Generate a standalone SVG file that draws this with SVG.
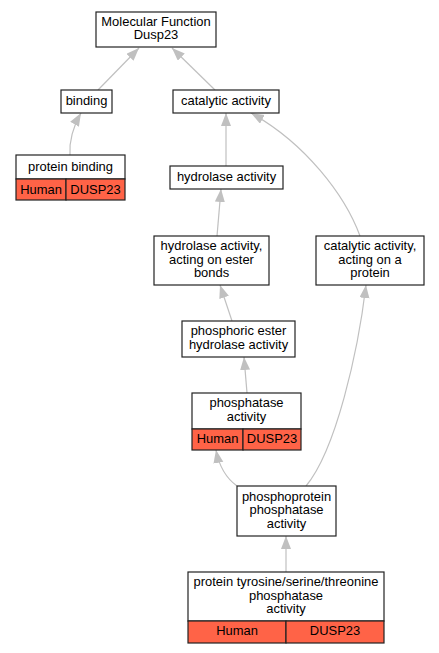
<svg xmlns="http://www.w3.org/2000/svg" width="439" height="653" viewBox="0 0 439 653">
<style>
text{font-family:"Liberation Sans",Arial,sans-serif;font-size:12.95px;fill:#000;text-anchor:middle}
.box{fill:#fff;stroke:#222;stroke-width:1.2}
.org{fill:#ff6347;stroke:#222;stroke-width:1.2}
.edge{fill:none;stroke:#c0c0c0;stroke-width:1.2}
</style>
<defs>
<marker id="ah" markerUnits="userSpaceOnUse" markerWidth="14" markerHeight="11" refX="13" refY="5" orient="auto" viewBox="0 0 14 11">
<path d="M0,0 L13,5 L0,10 z" fill="#c0c0c0"/>
</marker>
</defs>
<g id="connectors">
<path class="edge" d="M98,90 L139,48" marker-end="url(#ah)"/>
<path class="edge" d="M215,90 L172,48" marker-end="url(#ah)"/>
<path class="edge" d="M70,155 C69,141 73,127 81,113" marker-end="url(#ah)"/>
<path class="edge" d="M226,166 L226,113" marker-end="url(#ah)"/>
<path class="edge" d="M360,236 C345,195 305,143 251,113" marker-end="url(#ah)"/>
<path class="edge" d="M217,236 L221,189" marker-end="url(#ah)"/>
<path class="edge" d="M232,321 L220,285" marker-end="url(#ah)"/>
<path class="edge" d="M247,393 L244,357" marker-end="url(#ah)"/>
<path class="edge" d="M237,486 C226,478 219,466 216,450" marker-end="url(#ah)"/>
<path class="edge" d="M306,486 C336,450 358,352 366,285" marker-end="url(#ah)"/>
<path class="edge" d="M286,572 L286,536" marker-end="url(#ah)"/>
</g>
<g id="mf">
<rect class="box" x="96" y="12" width="120" height="35"/>
<text x="156" y="25.5">Molecular Function</text>
<text x="156" y="39">Dusp23</text>
</g>
<g id="binding">
<rect class="box" x="61" y="90" width="51" height="23"/>
<text x="86.5" y="105">binding</text>
</g>
<g id="catalytic">
<rect class="box" x="173" y="90" width="106" height="23"/>
<text x="226" y="105">catalytic activity</text>
</g>
<g id="proteinbinding">
<rect class="box" x="16" y="155" width="109" height="24"/>
<rect class="org" x="16" y="179" width="50" height="21"/>
<rect class="org" x="66" y="179" width="59" height="21"/>
<text x="70.5" y="171">protein binding</text>
<text x="41" y="194">Human</text>
<text x="95.5" y="194">DUSP23</text>
</g>
<g id="hydrolase">
<rect class="box" x="170" y="166" width="113" height="23"/>
<text x="226.5" y="181">hydrolase activity</text>
</g>
<g id="hydrolaseester">
<rect class="box" x="154" y="236" width="115" height="49"/>
<text x="211.5" y="250">hydrolase activity,</text>
<text x="211.5" y="263.5">acting on ester</text>
<text x="211.5" y="277">bonds</text>
</g>
<g id="catalyticprotein">
<rect class="box" x="316" y="236" width="108" height="49"/>
<text x="370" y="250">catalytic activity,</text>
<text x="370" y="263.5">acting on a</text>
<text x="370" y="277">protein</text>
</g>
<g id="phosphoric">
<rect class="box" x="182" y="321" width="113" height="36"/>
<text x="238.5" y="335">phosphoric ester</text>
<text x="238.5" y="349">hydrolase activity</text>
</g>
<g id="phosphatase">
<rect class="box" x="192" y="393" width="109" height="36"/>
<rect class="org" x="192" y="429" width="51" height="21"/>
<rect class="org" x="243" y="429" width="58" height="21"/>
<text x="246.5" y="407">phosphatase</text>
<text x="246.5" y="421">activity</text>
<text x="217.5" y="443">Human</text>
<text x="272" y="443">DUSP23</text>
</g>
<g id="phosphoprotein">
<rect class="box" x="237" y="486" width="99" height="50"/>
<text x="286.5" y="500.5">phosphoprotein</text>
<text x="286.5" y="514">phosphatase</text>
<text x="286.5" y="527.5">activity</text>
</g>
<g id="tyrosine">
<rect class="box" x="188" y="572" width="196" height="49"/>
<rect class="org" x="188" y="621" width="98" height="22"/>
<rect class="org" x="286" y="621" width="98" height="22"/>
<text x="286" y="586">protein tyrosine/serine/threonine</text>
<text x="286" y="599.5">phosphatase</text>
<text x="286" y="613">activity</text>
<text x="237" y="635">Human</text>
<text x="335" y="635">DUSP23</text>
</g>
</svg>
